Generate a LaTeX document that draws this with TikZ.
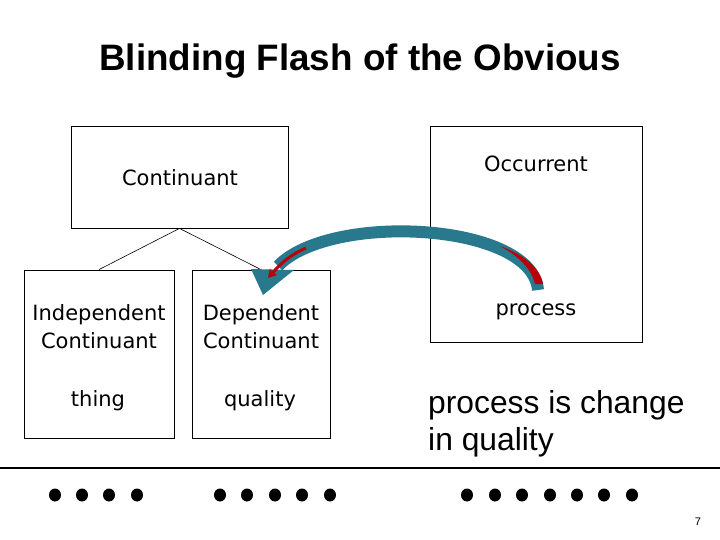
\documentclass[tikz,border=0pt]{standalone}
\usepackage{fontspec}
\usepackage{tikz}
\usetikzlibrary{arrows.meta}
\newfontfamily\slidearial{Liberation Sans}
\newfontfamily\slidetahoma{DejaVu Sans}
\definecolor{arcteal}{RGB}{40,121,141}
\definecolor{arcred}{RGB}{185,0,8}
\tikzset{
    pbox/.style = {draw, line width=0.8pt, inner sep=0pt},
    lbl/.style = {inner sep=0pt, align=center, font=\slidetahoma\fontsize{21}{28}\selectfont},
}
\tikzset{
    arcband/.style = {draw=arcteal, line width=12pt},
    arcstripe/.style = {fill=arcred},
}
\begin{document}
\begin{tikzpicture}[x=1pt, y=-1pt]
            \useasboundingbox (0, 0) rectangle (720, 540);

            \node (title) [anchor=base, font=\slidearial\bfseries\fontsize{36.8}{44}\selectfont] at (360, 71) {Blinding Flash of the Obvious};

            \node[pbox, minimum width=217pt, minimum height=102pt] (cont) at (179.5, 177) {};
            \node[pbox, minimum width=212pt, minimum height=216pt] (occ) at (536, 234) {};
            \node[pbox, minimum width=150pt, minimum height=168pt] (indep) at (99, 354) {};
            \node[pbox, minimum width=138pt, minimum height=168pt] (dep) at (261, 354) {};

            \node[lbl, anchor=base] (contlbl) at (180, 186) {Continuant};
            \node[lbl, anchor=base] (occlbl) at (536, 172) {Occurrent};
            \node[lbl, anchor=base] (proclbl) at (536, 315) {process};
            \node[lbl] (indeplbl) at (99, 327) {Independent\\Continuant};
            \node[lbl] (deplbl) at (261, 327) {Dependent\\Continuant};
            \node[lbl, anchor=base] (thing) at (98, 406) {thing};
            \node[lbl, anchor=base] (quality) at (260, 406) {quality};

            \node (change) [anchor=west, inner sep=0pt, align=left, font=\slidearial\fontsize{31.8}{37}\selectfont] at (428, 424) {process is change\\in quality};

            \draw[line width=0.6pt] (cont.south) -- (indep.north);
            \draw[line width=0.6pt] (cont.south) -- (dep.north);

            % curved arrow from process back to quality
            \coordinate (arcR) at (538, 290);
            \coordinate (arcL) at (278, 266);
            \draw[arcband] (arcR) .. controls (532, 222) and (330, 212) .. (arcL);
            \fill[arcteal] (251, 269) -- (294, 270) -- (263, 295) -- cycle;
            \fill[arcstripe] (500, 246) .. controls (525, 255) and (540, 268) .. (543, 284)
                -- (535, 284) .. controls (532, 270) and (520, 257) .. cycle;
            \draw[arcred, line width=3pt, -{Triangle[width=9pt, length=8pt]}] (306, 248) .. controls (292, 254) and (282, 262) .. (268, 278);

            \draw[line width=1.5pt] (0, 468) -- (720, 468);

            \foreach \x in {55, 82, 109, 137, 220, 247, 275, 302, 330, 467, 495, 522, 550, 577, 604, 632}
                \fill (\x, 495) ellipse (6 and 6.5);

            \node (pageno) [anchor=base, inner sep=0pt, font=\slidearial\fontsize{11}{13}\selectfont] at (698, 525) {7};
        \end{tikzpicture}
\end{document}
